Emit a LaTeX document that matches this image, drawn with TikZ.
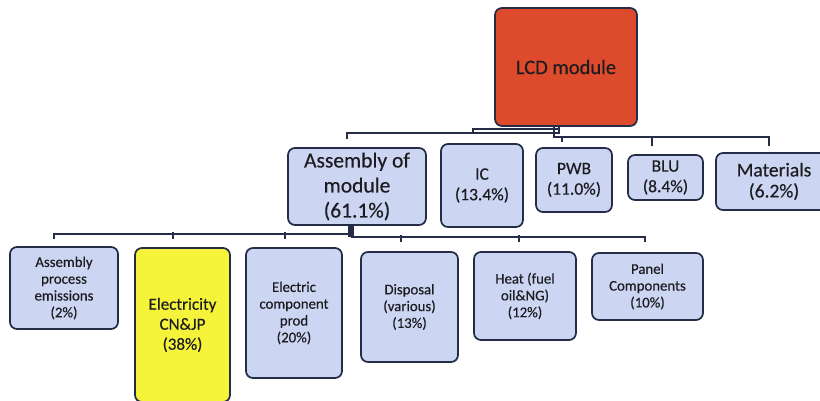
\documentclass[tikz,border=0pt]{standalone}
\usepackage{fontspec}
\setmainfont{Carlito}[UprightFeatures={FakeBold=0.35}]
\definecolor{edge}{RGB}{36,44,72}
\definecolor{boxfill}{RGB}{204,214,242}
\definecolor{lcdred}{RGB}{222,74,44}
\definecolor{elecyellow}{RGB}{246,244,58}
\definecolor{ink}{RGB}{28,28,32}
\tikzset{
  box/.style={draw=edge, line width=1.7pt, rounded corners=7pt, fill=boxfill,
              align=center, inner sep=1pt, text=ink},
  link/.style={draw=edge, line width=2pt},
  fa/.style={font=\fontsize{21.5}{25}\selectfont},
  fb/.style={font=\fontsize{17.5}{20.5}\selectfont},
  fc/.style={font=\fontsize{14.8}{16.8}\selectfont},
  fd/.style={font=\fontsize{17}{20}\selectfont},
}
\begin{document}
\begin{tikzpicture}[x=1pt,y=-1pt]
\useasboundingbox (0,0) rectangle (820,401);
\fill[white] (0,0) rectangle (820,401);

% root
\node[box, fill=lcdred, minimum width=142, minimum height=118, font=\fontsize{20.5}{24}\selectfont]
  (lcd) at (566,67) {LCD module};

% second level
\node[box, fa, minimum width=138, minimum height=77] (asm) at (357,186.5)
  {Assembly of\\module\\(61.1\%)};
\node[box, fb, minimum width=82, minimum height=83] (ic) at (482,185.5) {IC\\(13.4\%)};
\node[box, fb, minimum width=76, minimum height=64] (pwb) at (574,180) {PWB\\(11.0\%)};
\node[box, fb, minimum width=75, minimum height=45] (blu) at (665.5,177.5) {BLU\\(8.4\%)};
\node[box, font=\fontsize{19.5}{21}\selectfont, minimum width=116, minimum height=57]
  (mat) at (774,181.5) {Materials\\(6.2\%)};

% third level
\node[box, fc, minimum width=108, minimum height=82] (ape) at (64,288)
  {Assembly\\process\\emissions\\(2\%)};
\node[box, fd, fill=elecyellow, minimum width=95, minimum height=154] (ele) at (182.5,325)
  {Electricity\\CN\&JP\\(38\%)};
\node[box, fc, minimum width=96, minimum height=130] (ecp) at (294,313)
  {Electric\\component\\prod\\(20\%)};
\node[box, fc, minimum width=97, minimum height=110] (dis) at (409.5,307)
  {Disposal\\(various)\\(13\%)};
\node[box, fc, minimum width=102, minimum height=88] (heat) at (525,296)
  {Heat (fuel\\oil\&NG)\\(12\%)};
\node[box, fc, minimum width=111, minimum height=67] (pan) at (647.5,286.5)
  {Panel\\Components\\(10\%)};

% connectors from the root (yshift is upward)
\draw[link] ([xshift=-7]lcd.south) |- ([xshift=-10,yshift=14]asm.north) -- ([xshift=-10,yshift=8]asm.north);
\draw[link] ([xshift=-7]lcd.south) |- ([xshift=-9,yshift=14]ic.north) -- ([xshift=-9,yshift=10]ic.north);
\draw[link] ([xshift=-12]lcd.south) |- ([xshift=-5,yshift=15]mat.north) -- ([xshift=-5,yshift=6]mat.north);
\draw[link] ([xshift=-12,yshift=10]pwb.north) -- ([xshift=-12,yshift=5]pwb.north);
\draw[link] ([xshift=-13.5,yshift=17]blu.north) -- ([xshift=-13.5,yshift=8]blu.north);

% connectors from the assembly node
\draw[edge, line width=6pt] ([xshift=-6]asm.south) -- ++(0,11);
\draw[link] ([xshift=-6,yshift=-8]asm.south) -| ([xshift=-10,yshift=7]ape.north);
\draw[link] ([xshift=-9.5,yshift=15]ele.north) -- ([xshift=-9.5,yshift=8]ele.north);
\draw[link] ([xshift=-9,yshift=15]ecp.north) -- ([xshift=-9,yshift=8]ecp.north);
\draw[link] ([xshift=-6,yshift=-11]asm.south) -| ([xshift=-2.5,yshift=10]pan.north);
\draw[link] ([xshift=-8.5,yshift=16]dis.north) -- ([xshift=-8.5,yshift=9]dis.north);
\draw[link] ([xshift=-6,yshift=16]heat.north) -- ([xshift=-6,yshift=9]heat.north);
\end{tikzpicture}
\end{document}
